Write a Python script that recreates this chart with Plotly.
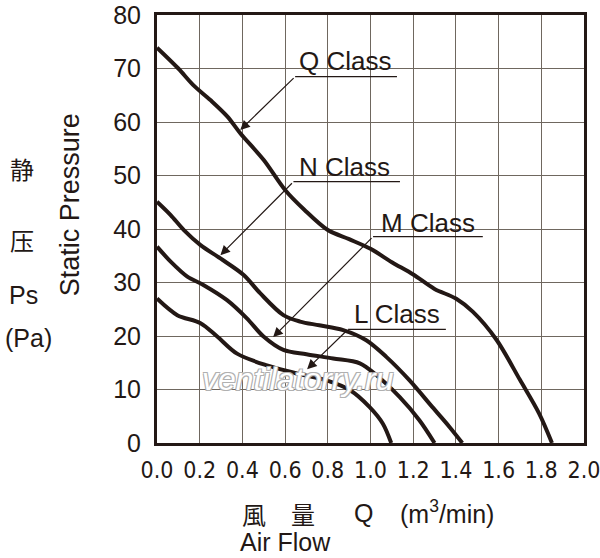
import plotly.graph_objects as go

# ---- data ----
q_x = [0, 0.1, 0.17, 0.25, 0.33, 0.39, 0.5, 0.6, 0.69, 0.8, 0.9, 1.0, 1.1, 1.2, 1.3, 1.4, 1.48, 1.59, 1.7, 1.79, 1.85]
q_y = [73.9, 70.0, 66.9, 64.1, 61.0, 57.9, 52.9, 47.3, 43.6, 39.8, 38.1, 36.3, 33.8, 31.5, 28.8, 27.0, 24.5, 19.3, 11.8, 5.5, 0]

n_x = [0, 0.064, 0.126, 0.204, 0.297, 0.406, 0.483, 0.592, 0.67, 0.76, 0.872, 0.98, 1.074, 1.183, 1.29, 1.37, 1.43]
n_y = [45.1, 42.6, 39.8, 37.0, 34.5, 31.4, 28.0, 23.9, 22.7, 22.0, 21.1, 19.2, 16.1, 11.7, 6.7, 3.0, 0]

m_x = [0, 0.064, 0.142, 0.219, 0.328, 0.421, 0.499, 0.592, 0.7, 0.825, 0.95, 1.027, 1.136, 1.229, 1.30]
m_y = [36.7, 33.9, 31.1, 29.5, 26.7, 23.3, 19.9, 17.4, 16.6, 15.8, 14.9, 12.7, 8.6, 4.25, 0]

l_x = [0, 0.095, 0.204, 0.282, 0.375, 0.515, 0.655, 0.794, 0.903, 0.996, 1.058, 1.097]
l_y = [27.0, 23.9, 22.4, 19.9, 16.7, 14.5, 13.0, 11.7, 9.9, 6.7, 3.6, 0]

series = [("Q Class", q_x, q_y), ("N Class", n_x, n_y), ("M Class", m_x, m_y), ("L Class", l_x, l_y)]

x_ticks = [0.0, 0.2, 0.4, 0.6, 0.8, 1.0, 1.2, 1.4, 1.6, 1.8, 2.0]
y_ticks = [0, 10, 20, 30, 40, 50, 60, 70, 80]

INK = "#231815"
FONT = "Liberation Sans, Arial, sans-serif"
NARROW = "DejaVu Sans Condensed, Liberation Sans Narrow, Liberation Sans, sans-serif"
CJK = "Noto Sans CJK SC, Noto Sans CJK JP, sans-serif"

fig = go.Figure()
for name, xs, ys in series:
    fig.add_trace(go.Scatter(x=xs, y=ys, mode="lines", name=name,
                             line=dict(color=INK, width=4, shape="spline", smoothing=0.9),
                             showlegend=False, hoverinfo="skip"))

# class labels: (text, text x, text y, underline x0, x1, underline y, tip x, tip y)
labels = [
    ("Q Class", 0.881, 71.4, 0.647, 1.124, 68.47, 0.39, 58.5),
    ("N Class", 0.876, 51.5, 0.639, 1.138, 48.84, 0.297, 35.1),
    ("M Class", 1.269, 41.1, 1.012, 1.526, 38.56, 0.544, 19.8),
    ("L Class", 1.126, 24.1, 0.895, 1.353, 21.25, 0.703, 13.8),
]

annotations = []
shapes = []
for text, tx, ty, ux0, ux1, uy, px, py in labels:
    shapes.append(dict(type="rect", xref="x", yref="y", x0=ux0 + 0.005, x1=ux1 - 0.005,
                       y0=uy + 0.3, y1=ty + 4.3, fillcolor="white", line=dict(width=0), layer="below"))
    annotations.append(dict(x=tx, y=ty, xref="x", yref="y", text=text, showarrow=False,
                            font=dict(family=FONT, size=26, color=INK)))
    shapes.append(dict(type="line", xref="x", yref="y", x0=ux0, x1=ux1, y0=uy, y1=uy,
                       line=dict(color=INK, width=1.2)))
    annotations.append(dict(x=px, y=py, xref="x", yref="y", ax=ux0, ay=uy, axref="x", ayref="y",
                            text="", showarrow=True, arrowhead=2, arrowsize=1.6, arrowwidth=1.2,
                            arrowcolor=INK, standoff=0, startstandoff=0))

# watermark
annotations.append(dict(x=0.661, y=11.96, xref="x", yref="y", text="ventilatorry.ru", showarrow=False,
                        font=dict(family=FONT, size=32, color="white", style="italic",
                                  shadow="-1px -1px 0 #b0b0b0, 1px -1px 0 #b0b0b0, -1px 1px 0 #b0b0b0, 1px 1px 0 #b0b0b0")))

# axis titles (paper coords)
def pp(X, Y):
    return (X - 156.5) / 428.0, (443.0 - Y) / 428.0

title_items = [
    ("静", 21.5, 168.5, "center", CJK, 24),
    ("压", 21.5, 239, "center", CJK, 24),
    ("Ps", 23, 295, "center", FONT, 25),
    ("(Pa)", 27.5, 337.5, "center", FONT, 25),
    ("風", 254, 513, "center", CJK, 24),
    ("量", 303, 513, "center", CJK, 24),
    ("Q", 363.5, 513, "center", FONT, 25),
    ("(m<sup>3</sup>/min)", 399, 512, "left", FONT, 25),
    ("Air Flow", 239, 541.7, "left", FONT, 25),
]
for txt, X, Y, anchor, fam, size in title_items:
    xp, yp = pp(X, Y)
    annotations.append(dict(x=xp, y=yp, xref="paper", yref="paper", text=txt, showarrow=False,
                            xanchor=anchor, yanchor="middle", borderpad=0,
                            font=dict(family=fam, size=size, color=INK)))

xp, yp = pp(69, 204.5)
annotations.append(dict(x=xp, y=yp, xref="paper", yref="paper", text="Static Pressure", showarrow=False,
                        textangle=-90, xanchor="center", yanchor="middle",
                        font=dict(family=FONT, size=27, color=INK)))

fig.update_layout(
    width=600, height=558,
    margin=dict(l=156.5, r=15.5, t=15, b=115, autoexpand=False),
    paper_bgcolor="white", plot_bgcolor="white",
    annotations=annotations, shapes=shapes,
    xaxis=dict(range=[0, 2.0], tickvals=x_ticks, ticktext=[f"{v:.1f}" for v in x_ticks],
               showgrid=True, gridcolor="#6f675f", gridwidth=1.2, zeroline=False,
               showline=True, linecolor=INK, linewidth=3, mirror=True, ticks="",
               ticklabelstandoff=4, automargin=False, ticklabeloverflow="allow",
               tickfont=dict(family=NARROW, size=23, color=INK), fixedrange=True),
    yaxis=dict(range=[0, 80], tickvals=y_ticks, ticktext=[str(v) for v in y_ticks],
               showgrid=True, gridcolor="#6f675f", gridwidth=1.2, zeroline=False,
               showline=True, linecolor=INK, linewidth=3, mirror=True, ticks="",
               ticklabelstandoff=8, automargin=False, ticklabeloverflow="allow",
               tickfont=dict(family=FONT, size=25, color=INK), fixedrange=True),
)

fig.write_html("out.html", config={"displayModeBar": False},
               post_script="document.body.style.margin='0';document.body.style.overflow='hidden';")
